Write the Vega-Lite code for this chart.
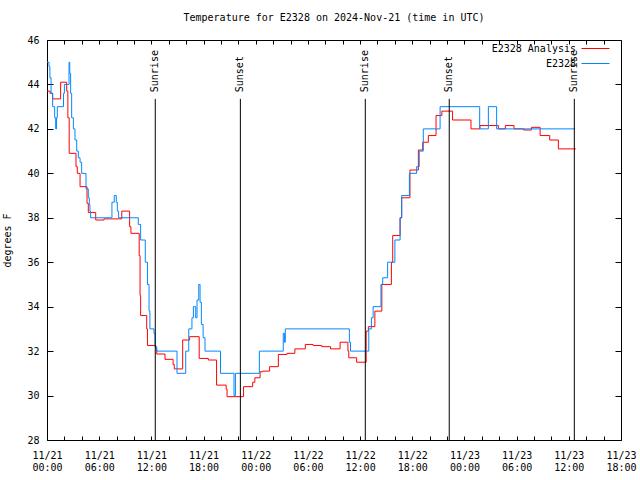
{
  "$schema": "https://vega.github.io/schema/vega-lite/v6.json",
  "width": 574,
  "height": 400,
  "autosize": {"type": "none"},
  "padding": {"left": 47, "top": 40, "right": 19, "bottom": 40},
  "background": "white",
  "config": {
    "font": "DejaVu Sans Mono",
    "view": {"stroke": "black", "strokeWidth": 1},
    "axis": {
      "labelFont": "DejaVu Sans Mono", "labelFontSize": 10, "labelColor": "black",
      "domainColor": "black", "tickColor": "black", "grid": false,
      "titleFont": "DejaVu Sans Mono", "titleFontSize": 10, "titleFontWeight": "normal", "titleColor": "black"
    }
  },
  "title": {"text": "Temperature for E2328 on 2024-Nov-21 (time in UTC)", "fontSize": 10, "font": "DejaVu Sans Mono", "fontWeight": "normal", "color": "black", "offset": 12, "anchor": "middle"},
  "datasets": {
    "temps": [
      {"series": "E2328 Analysis", "t": "2024-11-21T00:00:00Z", "temp": 43.7},
      {"series": "E2328 Analysis", "t": "2024-11-21T00:21:00Z", "temp": 43.6},
      {"series": "E2328 Analysis", "t": "2024-11-21T00:39:00Z", "temp": 43.35},
      {"series": "E2328 Analysis", "t": "2024-11-21T01:34:00Z", "temp": 44.1},
      {"series": "E2328 Analysis", "t": "2024-11-21T02:16:00Z", "temp": 43.7},
      {"series": "E2328 Analysis", "t": "2024-11-21T02:24:00Z", "temp": 42.5},
      {"series": "E2328 Analysis", "t": "2024-11-21T02:33:00Z", "temp": 40.9},
      {"series": "E2328 Analysis", "t": "2024-11-21T03:20:00Z", "temp": 40.3},
      {"series": "E2328 Analysis", "t": "2024-11-21T03:29:00Z", "temp": 40.0},
      {"series": "E2328 Analysis", "t": "2024-11-21T03:48:00Z", "temp": 39.4},
      {"series": "E2328 Analysis", "t": "2024-11-21T04:36:00Z", "temp": 38.65},
      {"series": "E2328 Analysis", "t": "2024-11-21T04:45:00Z", "temp": 38.24},
      {"series": "E2328 Analysis", "t": "2024-11-21T05:36:00Z", "temp": 37.9},
      {"series": "E2328 Analysis", "t": "2024-11-21T06:33:00Z", "temp": 37.95},
      {"series": "E2328 Analysis", "t": "2024-11-21T08:36:00Z", "temp": 38.3},
      {"series": "E2328 Analysis", "t": "2024-11-21T09:30:00Z", "temp": 37.6},
      {"series": "E2328 Analysis", "t": "2024-11-21T09:39:00Z", "temp": 37.3},
      {"series": "E2328 Analysis", "t": "2024-11-21T10:36:00Z", "temp": 36.3},
      {"series": "E2328 Analysis", "t": "2024-11-21T10:42:00Z", "temp": 34.5},
      {"series": "E2328 Analysis", "t": "2024-11-21T10:46:00Z", "temp": 33.6},
      {"series": "E2328 Analysis", "t": "2024-11-21T11:28:00Z", "temp": 33.0},
      {"series": "E2328 Analysis", "t": "2024-11-21T11:33:00Z", "temp": 32.25},
      {"series": "E2328 Analysis", "t": "2024-11-21T12:30:00Z", "temp": 32.1},
      {"series": "E2328 Analysis", "t": "2024-11-21T12:37:00Z", "temp": 31.87},
      {"series": "E2328 Analysis", "t": "2024-11-21T13:34:00Z", "temp": 31.63},
      {"series": "E2328 Analysis", "t": "2024-11-21T14:30:00Z", "temp": 31.4},
      {"series": "E2328 Analysis", "t": "2024-11-21T14:38:00Z", "temp": 31.2},
      {"series": "E2328 Analysis", "t": "2024-11-21T15:36:00Z", "temp": 32.5},
      {"series": "E2328 Analysis", "t": "2024-11-21T16:24:00Z", "temp": 32.65},
      {"series": "E2328 Analysis", "t": "2024-11-21T17:30:00Z", "temp": 31.67},
      {"series": "E2328 Analysis", "t": "2024-11-21T18:33:00Z", "temp": 31.6},
      {"series": "E2328 Analysis", "t": "2024-11-21T19:30:00Z", "temp": 30.47},
      {"series": "E2328 Analysis", "t": "2024-11-21T20:36:00Z", "temp": 30.3},
      {"series": "E2328 Analysis", "t": "2024-11-21T20:42:00Z", "temp": 29.95},
      {"series": "E2328 Analysis", "t": "2024-11-21T22:36:00Z", "temp": 30.4},
      {"series": "E2328 Analysis", "t": "2024-11-21T23:39:00Z", "temp": 30.6},
      {"series": "E2328 Analysis", "t": "2024-11-21T23:54:00Z", "temp": 30.8},
      {"series": "E2328 Analysis", "t": "2024-11-22T00:30:00Z", "temp": 31.07},
      {"series": "E2328 Analysis", "t": "2024-11-22T00:48:00Z", "temp": 31.1},
      {"series": "E2328 Analysis", "t": "2024-11-22T01:36:00Z", "temp": 31.3},
      {"series": "E2328 Analysis", "t": "2024-11-22T02:36:00Z", "temp": 31.85},
      {"series": "E2328 Analysis", "t": "2024-11-22T03:36:00Z", "temp": 31.9},
      {"series": "E2328 Analysis", "t": "2024-11-22T04:30:00Z", "temp": 32.1},
      {"series": "E2328 Analysis", "t": "2024-11-22T05:42:00Z", "temp": 32.3},
      {"series": "E2328 Analysis", "t": "2024-11-22T06:36:00Z", "temp": 32.25},
      {"series": "E2328 Analysis", "t": "2024-11-22T07:36:00Z", "temp": 32.2},
      {"series": "E2328 Analysis", "t": "2024-11-22T08:36:00Z", "temp": 32.1},
      {"series": "E2328 Analysis", "t": "2024-11-22T09:42:00Z", "temp": 32.4},
      {"series": "E2328 Analysis", "t": "2024-11-22T10:36:00Z", "temp": 32.0},
      {"series": "E2328 Analysis", "t": "2024-11-22T10:42:00Z", "temp": 31.7},
      {"series": "E2328 Analysis", "t": "2024-11-22T11:36:00Z", "temp": 31.5},
      {"series": "E2328 Analysis", "t": "2024-11-22T12:42:00Z", "temp": 32.9},
      {"series": "E2328 Analysis", "t": "2024-11-22T12:57:00Z", "temp": 33.1},
      {"series": "E2328 Analysis", "t": "2024-11-22T13:42:00Z", "temp": 33.8},
      {"series": "E2328 Analysis", "t": "2024-11-22T14:30:00Z", "temp": 35.0},
      {"series": "E2328 Analysis", "t": "2024-11-22T15:36:00Z", "temp": 36.0},
      {"series": "E2328 Analysis", "t": "2024-11-22T15:45:00Z", "temp": 37.2},
      {"series": "E2328 Analysis", "t": "2024-11-22T16:36:00Z", "temp": 38.0},
      {"series": "E2328 Analysis", "t": "2024-11-22T16:47:00Z", "temp": 38.9},
      {"series": "E2328 Analysis", "t": "2024-11-22T17:44:00Z", "temp": 40.15},
      {"series": "E2328 Analysis", "t": "2024-11-22T18:42:00Z", "temp": 41.05},
      {"series": "E2328 Analysis", "t": "2024-11-22T19:12:00Z", "temp": 41.4},
      {"series": "E2328 Analysis", "t": "2024-11-22T19:51:00Z", "temp": 41.7},
      {"series": "E2328 Analysis", "t": "2024-11-22T20:44:00Z", "temp": 42.6},
      {"series": "E2328 Analysis", "t": "2024-11-22T21:24:00Z", "temp": 42.8},
      {"series": "E2328 Analysis", "t": "2024-11-22T22:38:00Z", "temp": 42.4},
      {"series": "E2328 Analysis", "t": "2024-11-23T00:45:00Z", "temp": 42.0},
      {"series": "E2328 Analysis", "t": "2024-11-23T01:47:00Z", "temp": 42.15},
      {"series": "E2328 Analysis", "t": "2024-11-23T03:54:00Z", "temp": 42.0},
      {"series": "E2328 Analysis", "t": "2024-11-23T04:42:00Z", "temp": 42.15},
      {"series": "E2328 Analysis", "t": "2024-11-23T05:42:00Z", "temp": 42.0},
      {"series": "E2328 Analysis", "t": "2024-11-23T06:48:00Z", "temp": 41.95},
      {"series": "E2328 Analysis", "t": "2024-11-23T07:42:00Z", "temp": 42.07},
      {"series": "E2328 Analysis", "t": "2024-11-23T08:42:00Z", "temp": 41.7},
      {"series": "E2328 Analysis", "t": "2024-11-23T09:48:00Z", "temp": 41.5},
      {"series": "E2328 Analysis", "t": "2024-11-23T10:48:00Z", "temp": 41.1},
      {"series": "E2328 Analysis", "t": "2024-11-23T12:48:00Z", "temp": 41.1},
      {"series": "E2328", "t": "2024-11-21T00:00:00Z", "temp": 45.0},
      {"series": "E2328", "t": "2024-11-21T00:14:00Z", "temp": 44.8},
      {"series": "E2328", "t": "2024-11-21T00:20:00Z", "temp": 44.3},
      {"series": "E2328", "t": "2024-11-21T00:28:00Z", "temp": 43.6},
      {"series": "E2328", "t": "2024-11-21T00:39:00Z", "temp": 43.0},
      {"series": "E2328", "t": "2024-11-21T00:53:00Z", "temp": 42.5},
      {"series": "E2328", "t": "2024-11-21T01:00:00Z", "temp": 42.0},
      {"series": "E2328", "t": "2024-11-21T01:06:00Z", "temp": 42.5},
      {"series": "E2328", "t": "2024-11-21T01:11:00Z", "temp": 43.0},
      {"series": "E2328", "t": "2024-11-21T01:54:00Z", "temp": 43.6},
      {"series": "E2328", "t": "2024-11-21T02:00:00Z", "temp": 44.0},
      {"series": "E2328", "t": "2024-11-21T02:32:00Z", "temp": 45.0},
      {"series": "E2328", "t": "2024-11-21T02:37:00Z", "temp": 44.5},
      {"series": "E2328", "t": "2024-11-21T02:43:00Z", "temp": 43.6},
      {"series": "E2328", "t": "2024-11-21T02:50:00Z", "temp": 42.5},
      {"series": "E2328", "t": "2024-11-21T03:02:00Z", "temp": 42.0},
      {"series": "E2328", "t": "2024-11-21T03:13:00Z", "temp": 41.5},
      {"series": "E2328", "t": "2024-11-21T03:25:00Z", "temp": 41.0},
      {"series": "E2328", "t": "2024-11-21T03:36:00Z", "temp": 40.7},
      {"series": "E2328", "t": "2024-11-21T03:48:00Z", "temp": 40.5},
      {"series": "E2328", "t": "2024-11-21T03:59:00Z", "temp": 40.0},
      {"series": "E2328", "t": "2024-11-21T04:29:00Z", "temp": 39.3},
      {"series": "E2328", "t": "2024-11-21T04:45:00Z", "temp": 38.9},
      {"series": "E2328", "t": "2024-11-21T04:52:00Z", "temp": 38.6},
      {"series": "E2328", "t": "2024-11-21T04:56:00Z", "temp": 38.3},
      {"series": "E2328", "t": "2024-11-21T05:01:00Z", "temp": 38.0},
      {"series": "E2328", "t": "2024-11-21T07:28:00Z", "temp": 38.7},
      {"series": "E2328", "t": "2024-11-21T07:44:00Z", "temp": 39.0},
      {"series": "E2328", "t": "2024-11-21T07:58:00Z", "temp": 38.7},
      {"series": "E2328", "t": "2024-11-21T08:05:00Z", "temp": 38.3},
      {"series": "E2328", "t": "2024-11-21T08:14:00Z", "temp": 38.0},
      {"series": "E2328", "t": "2024-11-21T10:30:00Z", "temp": 37.7},
      {"series": "E2328", "t": "2024-11-21T10:46:00Z", "temp": 37.0},
      {"series": "E2328", "t": "2024-11-21T11:18:00Z", "temp": 36.0},
      {"series": "E2328", "t": "2024-11-21T11:33:00Z", "temp": 35.0},
      {"series": "E2328", "t": "2024-11-21T11:44:00Z", "temp": 33.8},
      {"series": "E2328", "t": "2024-11-21T11:50:00Z", "temp": 33.0},
      {"series": "E2328", "t": "2024-11-21T12:18:00Z", "temp": 32.8},
      {"series": "E2328", "t": "2024-11-21T12:25:00Z", "temp": 32.2},
      {"series": "E2328", "t": "2024-11-21T12:37:00Z", "temp": 32.0},
      {"series": "E2328", "t": "2024-11-21T14:57:00Z", "temp": 31.0},
      {"series": "E2328", "t": "2024-11-21T15:57:00Z", "temp": 32.0},
      {"series": "E2328", "t": "2024-11-21T16:18:00Z", "temp": 33.0},
      {"series": "E2328", "t": "2024-11-21T16:40:00Z", "temp": 33.5},
      {"series": "E2328", "t": "2024-11-21T16:50:00Z", "temp": 34.0},
      {"series": "E2328", "t": "2024-11-21T17:06:00Z", "temp": 33.5},
      {"series": "E2328", "t": "2024-11-21T17:15:00Z", "temp": 34.3},
      {"series": "E2328", "t": "2024-11-21T17:27:00Z", "temp": 35.0},
      {"series": "E2328", "t": "2024-11-21T17:36:00Z", "temp": 34.2},
      {"series": "E2328", "t": "2024-11-21T17:45:00Z", "temp": 33.2},
      {"series": "E2328", "t": "2024-11-21T17:57:00Z", "temp": 32.6},
      {"series": "E2328", "t": "2024-11-21T18:10:00Z", "temp": 32.0},
      {"series": "E2328", "t": "2024-11-21T19:57:00Z", "temp": 31.0},
      {"series": "E2328", "t": "2024-11-21T21:30:00Z", "temp": 30.0},
      {"series": "E2328", "t": "2024-11-21T21:40:00Z", "temp": 31.0},
      {"series": "E2328", "t": "2024-11-22T00:25:00Z", "temp": 32.0},
      {"series": "E2328", "t": "2024-11-22T03:10:00Z", "temp": 32.8},
      {"series": "E2328", "t": "2024-11-22T03:18:00Z", "temp": 32.4},
      {"series": "E2328", "t": "2024-11-22T03:24:00Z", "temp": 33.0},
      {"series": "E2328", "t": "2024-11-22T10:46:00Z", "temp": 32.4},
      {"series": "E2328", "t": "2024-11-22T10:54:00Z", "temp": 32.0},
      {"series": "E2328", "t": "2024-11-22T13:00:00Z", "temp": 33.0},
      {"series": "E2328", "t": "2024-11-22T13:18:00Z", "temp": 33.5},
      {"series": "E2328", "t": "2024-11-22T13:30:00Z", "temp": 34.0},
      {"series": "E2328", "t": "2024-11-22T14:24:00Z", "temp": 35.0},
      {"series": "E2328", "t": "2024-11-22T14:36:00Z", "temp": 35.3},
      {"series": "E2328", "t": "2024-11-22T15:10:00Z", "temp": 36.0},
      {"series": "E2328", "t": "2024-11-22T16:00:00Z", "temp": 37.0},
      {"series": "E2328", "t": "2024-11-22T16:36:00Z", "temp": 38.0},
      {"series": "E2328", "t": "2024-11-22T16:47:00Z", "temp": 39.0},
      {"series": "E2328", "t": "2024-11-22T17:40:00Z", "temp": 40.0},
      {"series": "E2328", "t": "2024-11-22T18:30:00Z", "temp": 40.3},
      {"series": "E2328", "t": "2024-11-22T18:48:00Z", "temp": 41.0},
      {"series": "E2328", "t": "2024-11-22T19:16:00Z", "temp": 42.0},
      {"series": "E2328", "t": "2024-11-22T21:12:00Z", "temp": 43.0},
      {"series": "E2328", "t": "2024-11-23T01:45:00Z", "temp": 42.0},
      {"series": "E2328", "t": "2024-11-23T02:45:00Z", "temp": 43.0},
      {"series": "E2328", "t": "2024-11-23T03:42:00Z", "temp": 42.0},
      {"series": "E2328", "t": "2024-11-23T12:42:00Z", "temp": 42.0}
    ],
    "sun": [
      {"t": "2024-11-21T12:27:00Z", "event": "Sunrise"},
      {"t": "2024-11-21T22:14:00Z", "event": "Sunset"},
      {"t": "2024-11-22T12:36:00Z", "event": "Sunrise"},
      {"t": "2024-11-22T22:15:00Z", "event": "Sunset"},
      {"t": "2024-11-23T12:38:00Z", "event": "Sunrise"}
    ]
  },
  "layer": [
    {
      "data": {"name": "temps"},
      "transform": [{"filter": "datum.series == 'E2328 Analysis'"}],
      "mark": {"type": "line", "interpolate": "step-after", "strokeWidth": 1},
      "encoding": {
        "x": {
          "field": "t", "type": "temporal",
          "scale": {"type": "utc", "domain": [{"year": 2024, "month": 11, "date": 21, "hours": 0, "utc": true}, {"year": 2024, "month": 11, "date": 23, "hours": 18, "utc": true}]},
          "axis": {
            "orient": "bottom", "title": null, "domain": false,
            "values": [
              {"year": 2024, "month": 11, "date": 21, "hours": 0, "utc": true},
              {"year": 2024, "month": 11, "date": 21, "hours": 2, "utc": true},
              {"year": 2024, "month": 11, "date": 21, "hours": 4, "utc": true},
              {"year": 2024, "month": 11, "date": 21, "hours": 6, "utc": true},
              {"year": 2024, "month": 11, "date": 21, "hours": 8, "utc": true},
              {"year": 2024, "month": 11, "date": 21, "hours": 10, "utc": true},
              {"year": 2024, "month": 11, "date": 21, "hours": 12, "utc": true},
              {"year": 2024, "month": 11, "date": 21, "hours": 14, "utc": true},
              {"year": 2024, "month": 11, "date": 21, "hours": 16, "utc": true},
              {"year": 2024, "month": 11, "date": 21, "hours": 18, "utc": true},
              {"year": 2024, "month": 11, "date": 21, "hours": 20, "utc": true},
              {"year": 2024, "month": 11, "date": 21, "hours": 22, "utc": true},
              {"year": 2024, "month": 11, "date": 22, "hours": 0, "utc": true},
              {"year": 2024, "month": 11, "date": 22, "hours": 2, "utc": true},
              {"year": 2024, "month": 11, "date": 22, "hours": 4, "utc": true},
              {"year": 2024, "month": 11, "date": 22, "hours": 6, "utc": true},
              {"year": 2024, "month": 11, "date": 22, "hours": 8, "utc": true},
              {"year": 2024, "month": 11, "date": 22, "hours": 10, "utc": true},
              {"year": 2024, "month": 11, "date": 22, "hours": 12, "utc": true},
              {"year": 2024, "month": 11, "date": 22, "hours": 14, "utc": true},
              {"year": 2024, "month": 11, "date": 22, "hours": 16, "utc": true},
              {"year": 2024, "month": 11, "date": 22, "hours": 18, "utc": true},
              {"year": 2024, "month": 11, "date": 22, "hours": 20, "utc": true},
              {"year": 2024, "month": 11, "date": 22, "hours": 22, "utc": true},
              {"year": 2024, "month": 11, "date": 23, "hours": 0, "utc": true},
              {"year": 2024, "month": 11, "date": 23, "hours": 2, "utc": true},
              {"year": 2024, "month": 11, "date": 23, "hours": 4, "utc": true},
              {"year": 2024, "month": 11, "date": 23, "hours": 6, "utc": true},
              {"year": 2024, "month": 11, "date": 23, "hours": 8, "utc": true},
              {"year": 2024, "month": 11, "date": 23, "hours": 10, "utc": true},
              {"year": 2024, "month": 11, "date": 23, "hours": 12, "utc": true},
              {"year": 2024, "month": 11, "date": 23, "hours": 14, "utc": true},
              {"year": 2024, "month": 11, "date": 23, "hours": 16, "utc": true},
              {"year": 2024, "month": 11, "date": 23, "hours": 18, "utc": true}
            ],
            "tickSize": -4,
            "labelPadding": 14, "labelFlush": false, "labelOverlap": false, "labelBound": false,
            "labelLineHeight": 12, "labelAlign": "center", "labelBaseline": "top",
            "labelExpr": "utchours(datum.value) % 6 == 0 ? [utcFormat(datum.value, '%m/%d'), utcFormat(datum.value, '%H:%M')] : ''"
          }
        },
        "y": {
          "field": "temp", "type": "quantitative",
          "scale": {"domain": [28, 46], "nice": false, "zero": false},
          "axis": {"orient": "left", "title": "degrees F", "domain": false, "values": [28, 30, 32, 34, 36, 38, 40, 42, 44, 46], "tickSize": -6, "labelPadding": 14, "titlePadding": 14}
        },
        "color": {
          "field": "series", "type": "nominal",
          "scale": {"domain": ["E2328 Analysis", "E2328"], "range": ["#ff0000", "#0088ff"]},
          "legend": {
            "orient": "none", "legendX": 541, "legendY": 1, "title": null, "padding": 0,
            "symbolType": "M-2,0H2", "symbolSize": 196, "symbolStrokeWidth": 1,
            "labelAlign": "right", "labelOffset": -27, "labelFont": "DejaVu Sans Mono", "labelFontSize": 10, "labelColor": "black",
            "rowPadding": 2
          }
        }
      }
    },
    {
      "data": {"name": "temps"},
      "transform": [{"filter": "datum.series == 'E2328'"}],
      "mark": {"type": "line", "interpolate": "step-after", "strokeWidth": 1},
      "encoding": {
        "x": {"field": "t", "type": "temporal", "axis": null},
        "y": {"field": "temp", "type": "quantitative", "axis": null},
        "color": {"field": "series", "type": "nominal"}
      }
    },
    {
      "data": {"name": "sun"},
      "mark": {"type": "rule", "color": "black", "strokeWidth": 1},
      "encoding": {
        "x": {
          "field": "t", "type": "temporal",
          "axis": {
            "orient": "top", "title": null, "labels": false, "domain": false, "tickSize": -4,
            "values": [
              {"year": 2024, "month": 11, "date": 21, "hours": 0, "utc": true},
              {"year": 2024, "month": 11, "date": 21, "hours": 2, "utc": true},
              {"year": 2024, "month": 11, "date": 21, "hours": 4, "utc": true},
              {"year": 2024, "month": 11, "date": 21, "hours": 6, "utc": true},
              {"year": 2024, "month": 11, "date": 21, "hours": 8, "utc": true},
              {"year": 2024, "month": 11, "date": 21, "hours": 10, "utc": true},
              {"year": 2024, "month": 11, "date": 21, "hours": 12, "utc": true},
              {"year": 2024, "month": 11, "date": 21, "hours": 14, "utc": true},
              {"year": 2024, "month": 11, "date": 21, "hours": 16, "utc": true},
              {"year": 2024, "month": 11, "date": 21, "hours": 18, "utc": true},
              {"year": 2024, "month": 11, "date": 21, "hours": 20, "utc": true},
              {"year": 2024, "month": 11, "date": 21, "hours": 22, "utc": true},
              {"year": 2024, "month": 11, "date": 22, "hours": 0, "utc": true},
              {"year": 2024, "month": 11, "date": 22, "hours": 2, "utc": true},
              {"year": 2024, "month": 11, "date": 22, "hours": 4, "utc": true},
              {"year": 2024, "month": 11, "date": 22, "hours": 6, "utc": true},
              {"year": 2024, "month": 11, "date": 22, "hours": 8, "utc": true},
              {"year": 2024, "month": 11, "date": 22, "hours": 10, "utc": true},
              {"year": 2024, "month": 11, "date": 22, "hours": 12, "utc": true},
              {"year": 2024, "month": 11, "date": 22, "hours": 14, "utc": true},
              {"year": 2024, "month": 11, "date": 22, "hours": 16, "utc": true},
              {"year": 2024, "month": 11, "date": 22, "hours": 18, "utc": true},
              {"year": 2024, "month": 11, "date": 22, "hours": 20, "utc": true},
              {"year": 2024, "month": 11, "date": 22, "hours": 22, "utc": true},
              {"year": 2024, "month": 11, "date": 23, "hours": 0, "utc": true},
              {"year": 2024, "month": 11, "date": 23, "hours": 2, "utc": true},
              {"year": 2024, "month": 11, "date": 23, "hours": 4, "utc": true},
              {"year": 2024, "month": 11, "date": 23, "hours": 6, "utc": true},
              {"year": 2024, "month": 11, "date": 23, "hours": 8, "utc": true},
              {"year": 2024, "month": 11, "date": 23, "hours": 10, "utc": true},
              {"year": 2024, "month": 11, "date": 23, "hours": 12, "utc": true},
              {"year": 2024, "month": 11, "date": 23, "hours": 14, "utc": true},
              {"year": 2024, "month": 11, "date": 23, "hours": 16, "utc": true},
              {"year": 2024, "month": 11, "date": 23, "hours": 18, "utc": true}
            ]
          }
        },
        "y": {"datum": 43.35, "type": "quantitative",
          "axis": {"orient": "right", "title": null, "labels": false, "domain": false, "values": [28, 30, 32, 34, 36, 38, 40, 42, 44, 46], "tickSize": -6}},
        "y2": {"datum": 28}
      }
    },
    {
      "data": {"name": "sun"},
      "mark": {"type": "text", "angle": 270, "align": "left", "baseline": "middle", "font": "DejaVu Sans Mono", "fontSize": 10, "color": "black"},
      "encoding": {
        "x": {"field": "t", "type": "temporal", "axis": null},
        "y": {"datum": 43.65, "type": "quantitative", "axis": null},
        "text": {"field": "event"}
      }
    }
  ],
  "resolve": {"axis": {"x": "independent", "y": "independent"}}
}
